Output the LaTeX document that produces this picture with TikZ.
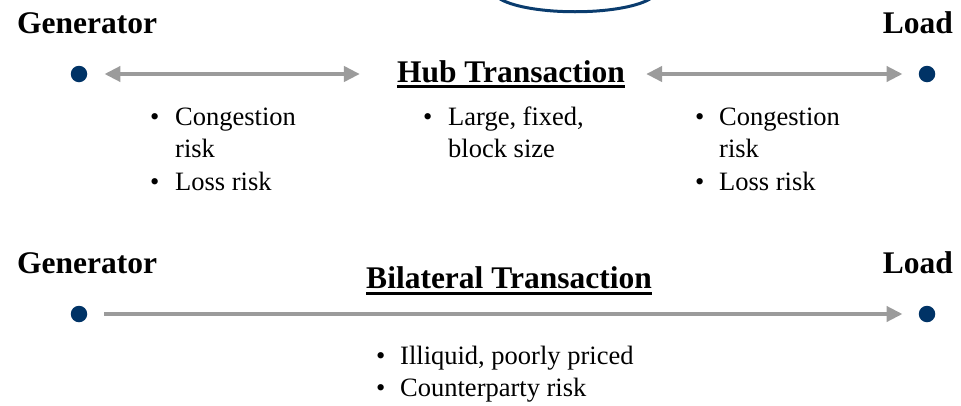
\documentclass[tikz,border=0pt]{standalone}
\usepackage{fontspec}
\setmainfont{Liberation Serif}
\usetikzlibrary{arrows.meta}
\definecolor{dotblue}{RGB}{0,51,102}
\definecolor{curveblue}{RGB}{10,60,110}
\definecolor{arrowgray}{RGB}{155,155,155}
\begin{document}
\begin{tikzpicture}[x=1pt,y=-1pt,
  head/.style={inner sep=0pt,font=\fontsize{31.5}{38}\selectfont\bfseries},
  itemtxt/.style={inner sep=0pt,anchor=base west,font=\fontsize{26.5}{32}\selectfont},
  dotnode/.style={circle,fill=dotblue,inner sep=0pt,minimum size=16.5pt},
  conn/.style={draw=arrowgray,line width=4pt,-{Triangle[length=16pt,width=15pt]}},
  conn2/.style={draw=arrowgray,line width=4pt,{Triangle[length=16pt,width=15pt]}-{Triangle[length=16pt,width=15pt]}},
  uline/.style={line width=2.6pt}
]
\useasboundingbox (0,0) rectangle (961,405);
% partial ellipse at top
\draw[curveblue,line width=3pt] (500,-1) .. controls (530,16) and (620,16) .. (650,-1);

% top row
\node[head,anchor=base west] (gen1) at (17,33) {Generator};
\node[head,anchor=base east] (load1) at (953,33) {Load};
\node[head,anchor=base] (hub) at (511,82) {Hub Transaction};
\draw[uline] ([yshift=-4.5pt]hub.base west) -- ([yshift=-4.5pt]hub.base east);
\node[dotnode] (d1) at (79,74) {};
\node[dotnode] (d2) at (927,74) {};
\path[conn2,shorten <=17pt,shorten >=37pt] (d1.east) -- (hub.west |- d1);
\path[conn2,shorten <=21pt,shorten >=16pt] (hub.east |- d2) -- (d2.west);

% left bullets
\node[itemtxt] (lb1) at (150,125) {\textbullet};
\node[itemtxt] (lt1) at (175,125) {Congestion};
\node[itemtxt] (lt2) at (175,157) {risk};
\node[itemtxt] (lb2) at (150,190) {\textbullet};
\node[itemtxt] (lt3) at (175,190) {Loss risk};
% middle bullets
\node[itemtxt] (mb1) at (423,125) {\textbullet};
\node[itemtxt] (mt1) at (448,125) {Large, fixed,};
\node[itemtxt] (mt2) at (448,157) {block size};
% right bullets
\node[itemtxt] (rb1) at (695,125) {\textbullet};
\node[itemtxt] (rt1) at (719,125) {Congestion};
\node[itemtxt] (rt2) at (719,157) {risk};
\node[itemtxt] (rb2) at (695,190) {\textbullet};
\node[itemtxt] (rt3) at (719,190) {Loss risk};

% bottom row
\node[head,anchor=base west] (gen2) at (17,273) {Generator};
\node[head,anchor=base east] (load2) at (953,273) {Load};
\node[head,anchor=base] (bil) at (509,288) {Bilateral Transaction};
\draw[uline] ([yshift=-5.5pt]bil.base west) -- ([yshift=-5.5pt]bil.base east);
\node[dotnode] (d3) at (79,314) {};
\node[dotnode] (d4) at (927,314) {};
\path[conn,shorten <=17pt,shorten >=16pt] (d3.east) -- (d4.west);

\node[itemtxt] (bb1) at (376,364) {\textbullet};
\node[itemtxt] (bt1) at (400,364) {Illiquid, poorly priced};
\node[itemtxt] (bb2) at (376,396) {\textbullet};
\node[itemtxt] (bt2) at (400,396) {Counterparty risk};
\end{tikzpicture}
\end{document}
